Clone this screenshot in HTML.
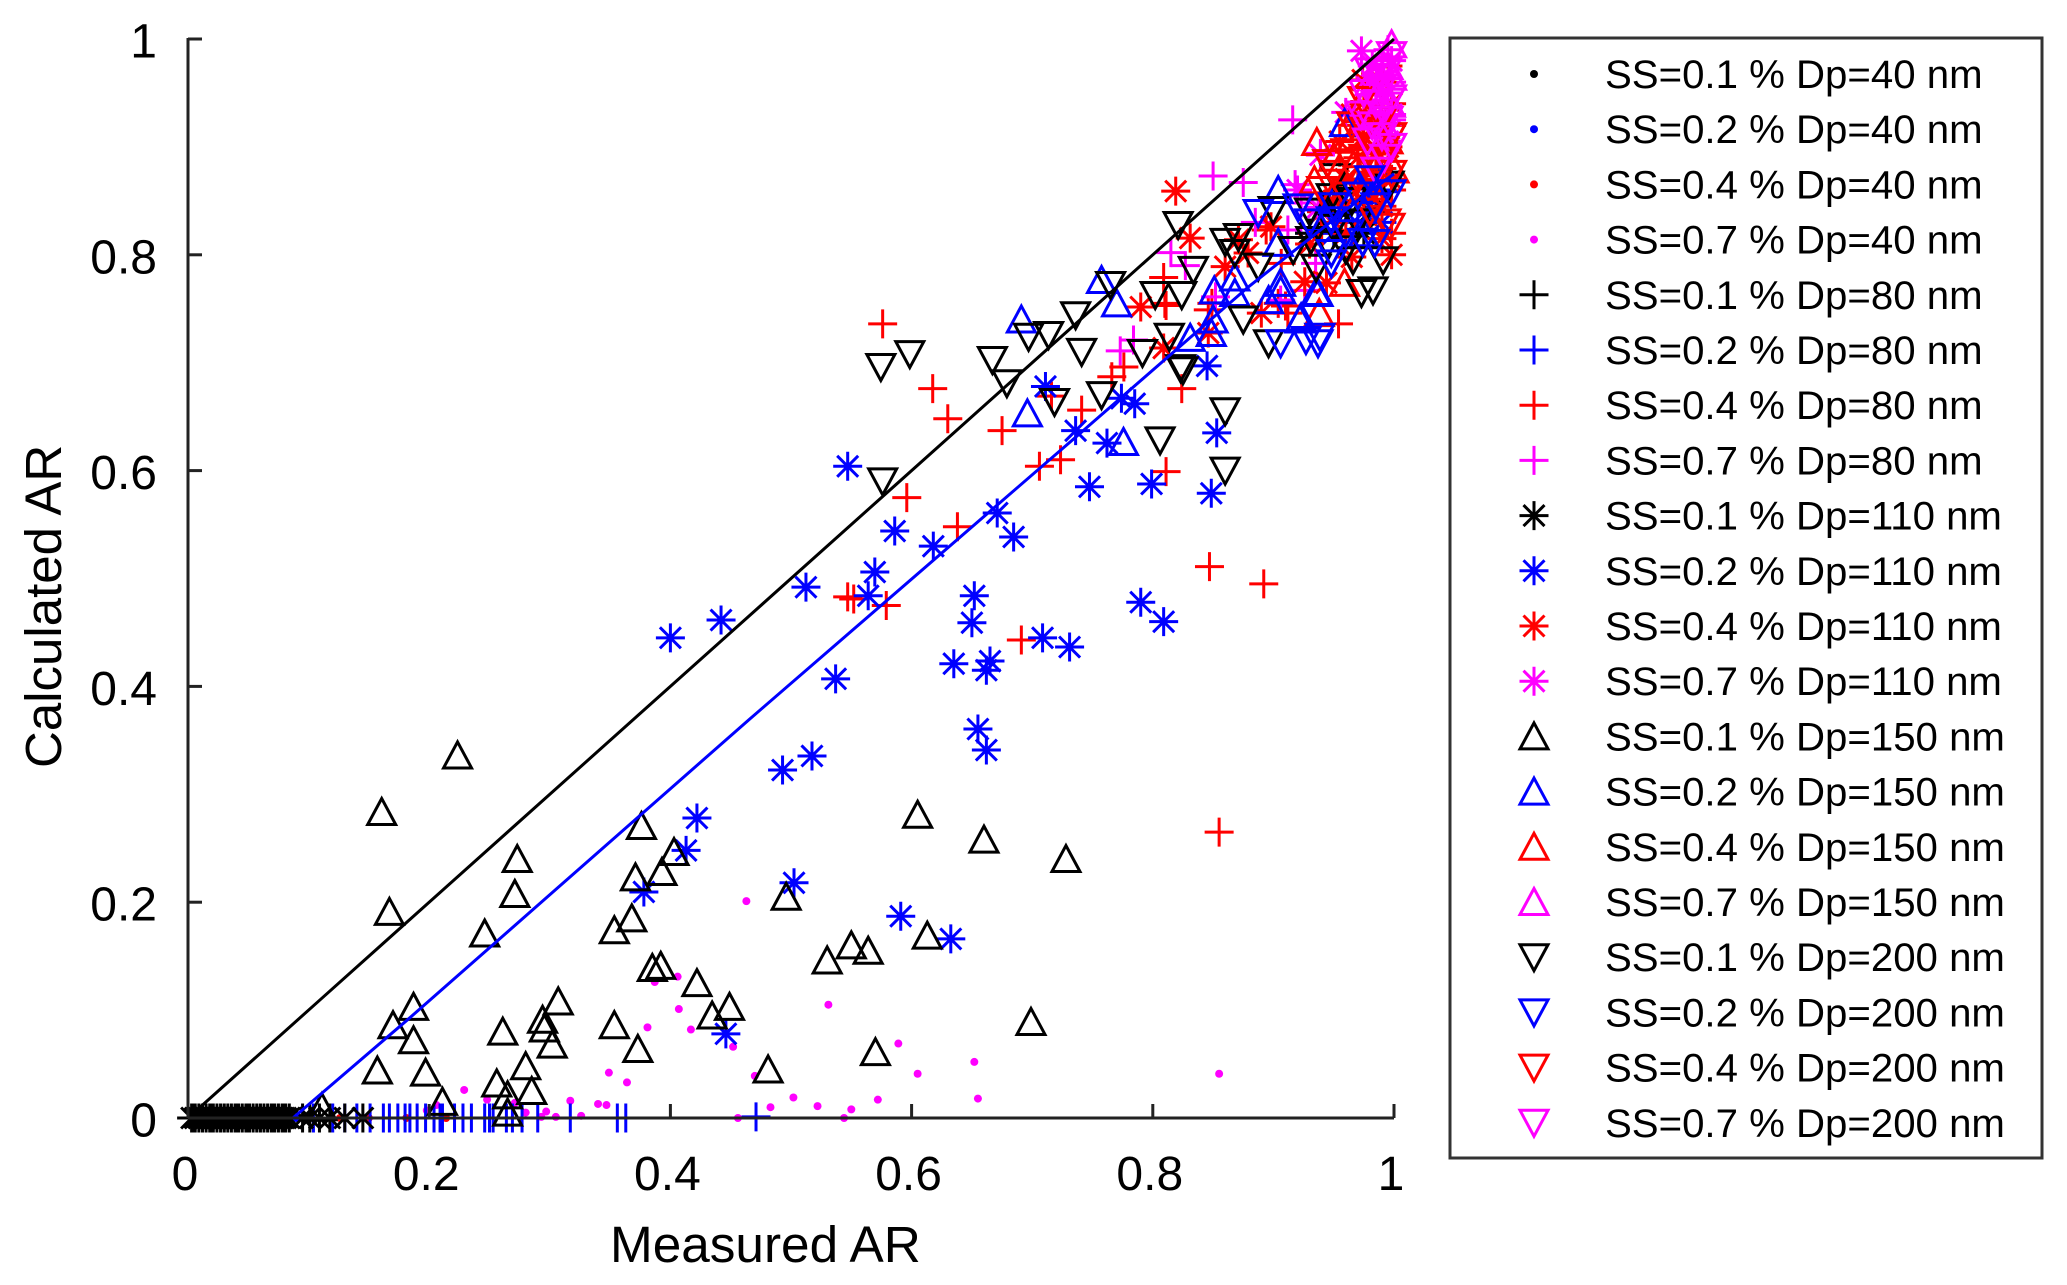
<!DOCTYPE html>
<html lang="en">
<head>
<meta charset="utf-8">
<title>Calculated AR vs Measured AR</title>
<style>
html,body{margin:0;padding:0;background:#fff;}
svg{display:block;font-family:"Liberation Sans",sans-serif;}
</style>
</head>
<body>
<svg id="chart" xmlns="http://www.w3.org/2000/svg" width="2067" height="1285" viewBox="0 0 2067 1285">
  <rect x="0" y="0" width="2067" height="1285" fill="#fff"/>
  <g id="marks"></g>
  <g id="fit-lines"></g>
  <g id="axes"></g>
  <text x="610" y="1262" font-size="51.3" fill="#000">Measured AR</text>
  <text transform="translate(61,768) rotate(-90)" font-size="51" fill="#000">Calculated AR</text>
  <rect x="1450" y="38" width="592" height="1120" fill="#fff" stroke="#333" stroke-width="3"/>
  <g id="legend"></g>
</svg>
<script>
const xTicks = [0, 0.2, 0.4, 0.6, 0.8, 1];
const yTicks = [0, 0.2, 0.4, 0.6, 0.8, 1];
const xTickLabels = ["0", "0.2", "0.4", "0.6", "0.8", "1"];
const yTickLabels = ["0", "0.2", "0.4", "0.6", "0.8", "1"];

const legendLabels = [
  "SS=0.1 % Dp=40 nm", "SS=0.2 % Dp=40 nm", "SS=0.4 % Dp=40 nm", "SS=0.7 % Dp=40 nm",
  "SS=0.1 % Dp=80 nm", "SS=0.2 % Dp=80 nm", "SS=0.4 % Dp=80 nm", "SS=0.7 % Dp=80 nm",
  "SS=0.1 % Dp=110 nm", "SS=0.2 % Dp=110 nm", "SS=0.4 % Dp=110 nm", "SS=0.7 % Dp=110 nm",
  "SS=0.1 % Dp=150 nm", "SS=0.2 % Dp=150 nm", "SS=0.4 % Dp=150 nm", "SS=0.7 % Dp=150 nm",
  "SS=0.1 % Dp=200 nm", "SS=0.2 % Dp=200 nm", "SS=0.4 % Dp=200 nm", "SS=0.7 % Dp=200 nm"
];

const blackLine = [[0,0],[0.11,0.11],[0.37,0.37],[0.63,0.63],[0.88,0.88],[1,1]];
const blueLine = [[0.087,0],[0.182,0.091],[0.465,0.369],[0.733,0.628],[0.879,0.77],[0.973,0.853],[1,0.875]];

const ss01d40 = [[0.01,0],[0.03,0],[0.05,0],[0.07,0]];
const ss02d40 = [[0.02,0],[0.04,0],[0.06,0],[0.09,0]];
const ss04d40 = [[0.04,0],[0.1,0],[0.126,0],[0.15,0],[0.181,0],[0.214,0]];
const ss07d40 = [[0.198,0.007],[0.206,0.012],[0.229,0.026],[0.248,0.017],[0.271,0.014],[0.28,0.005],[0.297,0.006],[0.293,0.001],[0.305,0.001],[0.317,0.016],[0.326,0.002],[0.34,0.013],[0.347,0.012],[0.349,0.042],[0.364,0.033],[0.381,0.084],[0.406,0.131],[0.387,0.126],[0.407,0.101],[0.463,0.201],[0.417,0.082],[0.452,0.066],[0.47,0.039],[0.531,0.105],[0.589,0.069],[0.605,0.041],[0.652,0.052],[0.655,0.018],[0.855,0.041],[0.456,0],[0.483,0.01],[0.502,0.019],[0.522,0.011],[0.55,0.008],[0.544,0],[0.572,0.017],[0.99,0.97],[0.995,0.95]];

const ss01d80 = [[0.005,0],[0.012,0],[0.02,0],[0.03,0],[0.04,0],[0.05,0],[0.06,0],[0.07,0],[0.08,0],[0.96,0.86],[0.975,0.84],[0.95,0.83]];
const ss02d80 = [[0.104,0],[0.12,0],[0.13,0],[0.14,0],[0.151,0],[0.162,0],[0.167,0],[0.174,0],[0.18,0],[0.184,0],[0.19,0],[0.197,0],[0.204,0],[0.209,0],[0.211,0],[0.221,0],[0.228,0],[0.235,0],[0.246,0],[0.25,0],[0.253,0],[0.264,0],[0.269,0],[0.277,0],[0.29,0],[0.317,0],[0.356,0],[0.363,0],[0.471,0.001],[0.93,0.82],[0.95,0.85],[0.97,0.83]];
const ss04d80 = [[0.576,0.736],[0.6175,0.676],[0.63,0.648],[0.596,0.575],[0.638,0.548],[0.675,0.637],[0.741,0.656],[0.7235,0.61],[0.706,0.604],[0.811,0.599],[0.824,0.676],[0.716,0.669],[0.776,0.696],[0.766,0.687],[0.809,0.779],[0.81,0.755],[0.811,0.753],[0.846,0.749],[0.849,0.755],[0.547,0.483],[0.552,0.481],[0.579,0.475],[0.691,0.443],[0.847,0.511],[0.892,0.495],[0.855,0.265],[0.954,0.736],[0.91,0.7525],[0.9065,0.792],[0.894,0.823],[0.904,0.755],[0.912,0.746],[0.995,0.975],[0.99,0.94],[0.998,0.92],[0.985,0.91],[0.975,0.9],[0.99,0.88],[0.998,0.86],[0.97,0.87],[0.96,0.85],[0.985,0.84],[0.95,0.83],[0.94,0.82],[0.998,0.82],[0.975,0.94],[0.965,0.92],[0.955,0.895]];
const ss07d80 = [[0.85,0.873],[0.875,0.867],[0.916,0.925],[0.784,0.721],[0.815,0.802],[0.827,0.79],[0.885,0.83],[0.939,0.894],[0.773,0.711],[0.852,0.761],[0.912,0.823],[0.923,0.848],[0.935,0.792],[0.926,0.767],[0.906,0.758],[0.918,0.865],[0.995,0.99],[0.99,0.975],[0.998,0.96],[0.985,0.95],[0.995,0.94],[0.998,0.925],[0.99,0.91],[0.98,0.965],[0.975,0.93]];

const ss01d110 = [[0.003,0],[0.006,0],[0.009,0],[0.012,0],[0.015,0],[0.018,0],[0.021,0],[0.024,0],[0.027,0],[0.03,0],[0.033,0],[0.036,0],[0.039,0],[0.042,0],[0.045,0],[0.048,0],[0.051,0],[0.054,0],[0.057,0],[0.06,0],[0.063,0],[0.066,0],[0.069,0],[0.072,0],[0.075,0],[0.078,0],[0.081,0],[0.084,0],[0.095,0],[0.101,0],[0.109,0],[0.1176,0],[0.13,0],[0.145,0],[0.96,0.87],[0.95,0.85],[0.98,0.84],[0.94,0.84],[0.975,0.82],[0.93,0.82]];
const ss02d110 = [[0.4,0.445],[0.442,0.4615],[0.5124,0.492],[0.547,0.604],[0.586,0.544],[0.618,0.53],[0.5695,0.506],[0.564,0.484],[0.671,0.5607],[0.6846,0.5385],[0.7475,0.585],[0.652,0.484],[0.65,0.459],[0.7086,0.445],[0.731,0.4365],[0.635,0.421],[0.665,0.4235],[0.662,0.415],[0.537,0.407],[0.655,0.3605],[0.662,0.341],[0.5174,0.3355],[0.493,0.3225],[0.422,0.278],[0.413,0.248],[0.378,0.2095],[0.5025,0.218],[0.591,0.187],[0.6325,0.166],[0.446,0.078],[0.711,0.678],[0.736,0.637],[0.762,0.6255],[0.774,0.667],[0.785,0.662],[0.799,0.5876],[0.845,0.697],[0.853,0.635],[0.8485,0.579],[0.79,0.478],[0.809,0.46],[0.985,0.86],[0.975,0.84],[0.96,0.84],[0.99,0.83],[0.95,0.82]];
const ss04d110 = [[0.819,0.859],[0.831,0.8155],[0.86,0.789],[0.879,0.8017],[0.871,0.814],[0.79,0.7516],[0.846,0.7275],[0.926,0.775],[0.944,0.774],[0.89,0.746],[0.898,0.826],[0.998,0.8],[0.965,0.798],[0.809,0.7136],[0.974,0.962],[0.99,0.96],[0.998,0.94],[0.985,0.92],[0.975,0.91],[0.995,0.9],[0.97,0.89],[0.985,0.875],[0.96,0.87],[0.998,0.87],[0.95,0.85],[0.975,0.85],[0.99,0.845],[0.94,0.84],[0.96,0.82],[0.93,0.81],[0.99,0.815],[0.965,0.93],[0.955,0.905]];
const ss07d110 = [[0.973,0.989],[0.96,0.932],[0.939,0.8925],[0.92,0.86],[0.937,0.844],[0.998,0.98],[0.99,0.965],[0.995,0.95],[0.985,0.94],[0.998,0.93],[0.99,0.92],[0.995,0.905],[0.982,0.975],[0.978,0.955],[0.98,0.925]];

const ss01d150 = [[0.2235,0.336],[0.1606,0.2836],[0.167,0.191],[0.273,0.24],[0.271,0.2076],[0.246,0.171],[0.376,0.2706],[0.403,0.2465],[0.393,0.228],[0.371,0.223],[0.368,0.185],[0.3535,0.174],[0.392,0.141],[0.385,0.139],[0.422,0.125],[0.449,0.103],[0.4346,0.095],[0.481,0.045],[0.496,0.205],[0.53,0.146],[0.55,0.16],[0.564,0.155],[0.613,0.169],[0.57,0.061],[0.699,0.089],[0.307,0.108],[0.294,0.091],[0.2955,0.083],[0.261,0.08],[0.3535,0.086],[0.373,0.064],[0.302,0.068],[0.28,0.048],[0.256,0.032],[0.285,0.025],[0.265,0.021],[0.265,0.005],[0.211,0.015],[0.157,0.044],[0.197,0.042],[0.187,0.072],[0.17,0.086],[0.187,0.103],[0.111,0.01],[0.605,0.281],[0.66,0.258],[0.728,0.24]];
const ss02d150 = [[0.691,0.74],[0.7575,0.7766],[0.77,0.755],[0.696,0.653],[0.7757,0.6265],[0.831,0.723],[0.851,0.767],[0.8485,0.7275],[0.868,0.779],[0.868,0.7646],[0.85,0.74],[0.896,0.758],[0.906,0.774],[0.937,0.7646],[0.923,0.742],[0.904,0.86],[0.959,0.922],[0.906,0.767],[0.9355,0.7655],[0.922,0.74],[0.904,0.811],[0.99,0.87],[0.97,0.86],[0.95,0.85],[0.975,0.82],[0.94,0.835]];
const ss04d150 = [[0.936,0.9045],[0.938,0.746],[0.959,0.774],[0.934,0.869],[0.966,0.909],[0.995,0.906],[1,0.879],[0.987,0.885],[0.975,0.88],[0.96,0.86],[0.985,0.93],[0.95,0.89],[0.97,0.935],[0.98,0.905]];
const ss07d150 = [[0.998,0.995],[0.995,0.975],[0.99,0.955],[0.997,0.94],[0.985,0.93],[0.992,0.92],[0.998,0.965],[0.98,0.96],[0.975,0.94]];

const ss01d200 = [[0.5745,0.696],[0.5985,0.708],[0.576,0.59],[0.667,0.7025],[0.679,0.681],[0.697,0.724],[0.7136,0.7257],[0.736,0.744],[0.741,0.71],[0.765,0.772],[0.7185,0.6636],[0.7575,0.67],[0.806,0.628],[0.7914,0.709],[0.8137,0.724],[0.802,0.7627],[0.824,0.7627],[0.8336,0.786],[0.825,0.693],[0.823,0.695],[0.821,0.8276],[0.86,0.655],[0.86,0.6],[0.871,0.8165],[0.86,0.812],[0.868,0.8017],[0.8874,0.789],[0.8998,0.8415],[0.9164,0.8044],[0.9354,0.788],[0.931,0.8137],[0.966,0.795],[0.991,0.795],[0.973,0.7646],[0.9826,0.767],[0.875,0.74],[0.896,0.718],[0.951,0.872],[0.948,0.8535],[0.996,0.865],[0.965,0.85],[0.955,0.845],[0.97,0.83],[0.95,0.825],[0.945,0.81],[0.96,0.805],[0.93,0.84]];
const ss02d200 = [[0.8874,0.8387],[0.9205,0.844],[0.948,0.792],[0.948,0.832],[0.927,0.721],[0.9386,0.724],[0.948,0.8017],[0.974,0.812],[0.984,0.811],[0.906,0.718],[0.937,0.718],[0.9975,0.857],[0.98,0.87],[0.97,0.855],[0.985,0.845],[0.95,0.845],[0.96,0.82],[0.93,0.83]];
const ss04d200 = [[0.974,0.9435],[0.976,0.915],[0.99,0.925],[0.998,0.91],[0.96,0.895],[0.975,0.89],[0.99,0.89],[0.97,0.87],[0.985,0.865],[0.95,0.875],[0.96,0.855],[0.998,0.875],[0.94,0.86],[0.9967,0.826],[0.9934,0.83],[0.98,0.84],[0.965,0.92],[0.945,0.885],[0.985,0.905]];
const ss07d200 = [[0.998,0.985],[0.994,0.97],[0.99,0.955],[0.998,0.945],[0.985,0.94],[0.995,0.925],[0.99,0.91],[0.998,0.9],[0.982,0.92],[0.978,0.905],[0.992,0.89],[0.985,0.878],[0.98,0.97],[0.975,0.95],[0.972,0.93],[0.988,0.965]];

const seriesData = [
  ss01d40, ss02d40, ss04d40, ss07d40,
  ss01d80, ss02d80, ss04d80, ss07d80,
  ss01d110, ss02d110, ss04d110, ss07d110,
  ss01d150, ss02d150, ss04d150, ss07d150,
  ss01d200, ss02d200, ss04d200, ss07d200
];
const seriesColors = ["#000","#00f","#f00","#f0f"];
const seriesMarkers = ["dot","plus","star","up","down"];
const drawOrder = [0,1,2,3,4,5,6,7,8,9,10,11,12,14,15,13,16,18,19,17];

const SVGNS = "http://www.w3.org/2000/svg";
const X0 = 188, X1 = 1394, Y0 = 1118, Y1 = 39;
function xScale(v){ return X0 + (X1 - X0) * v; }
function yScale(v){ return Y0 - (Y0 - Y1) * v; }

function node(tag, parent){
  const el = document.createElementNS(SVGNS, tag);
  parent.appendChild(el);
  return el;
}
function drawMarker(parent, kind, cx, cy, color, name){
  let el;
  if (kind === "dot") {
    el = node("circle", parent);
    el.setAttribute("cx", cx);
    el.setAttribute("cy", cy);
    el.setAttribute("r", 4);
    el.setAttribute("fill", color);
  } else {
    el = node("path", parent);
    let d = "";
    if (kind === "plus") {
      d = `M${cx-14.5} ${cy}H${cx+14.5}M${cx} ${cy-14.5}V${cy+14.5}`;
    } else if (kind === "star") {
      d = `M${cx-14.5} ${cy}H${cx+14.5}M${cx} ${cy-14.5}V${cy+14.5}M${cx-10.5} ${cy-10.5}L${cx+10.5} ${cy+10.5}M${cx-10.5} ${cy+10.5}L${cx+10.5} ${cy-10.5}`;
    } else if (kind === "up") {
      d = `M${cx} ${cy-13.5}L${cx+14} ${cy+12.5}H${cx-14}Z`;
    } else {
      d = `M${cx} ${cy+13.5}L${cx+14} ${cy-12.5}H${cx-14}Z`;
    }
    el.setAttribute("d", d);
    el.setAttribute("fill", "none");
    el.setAttribute("stroke", color);
    el.setAttribute("stroke-width", 3);
  }
  
  
}

const marksGroup = document.getElementById("marks");
drawOrder.forEach(function(i){
  const kind = seriesMarkers[Math.floor(i / 4)];
  const color = seriesColors[i % 4];
  const g = node("g", marksGroup);
  
  
  seriesData[i].forEach(function(p){
    drawMarker(g, kind, xScale(p[0]), yScale(p[1]), color, 'data-point');
  });
});

function drawLine(points, color, name){
  const el = node("polyline", document.getElementById("fit-lines"));
  el.setAttribute("points", points.map(function(p){ return xScale(p[0]) + "," + yScale(p[1]); }).join(" "));
  el.setAttribute("fill", "none");
  el.setAttribute("stroke", color);
  el.setAttribute("stroke-width", 3);
  
  
}
drawLine(blackLine, "#000", "one-to-one-line");
drawLine(blueLine, "#00f", "blue-fit-line");

const axesGroup = document.getElementById("axes");
const xAxisLine = node("line", axesGroup);
xAxisLine.setAttribute("x1", X0);
xAxisLine.setAttribute("x2", X1);
xAxisLine.setAttribute("y1", Y0);
xAxisLine.setAttribute("y2", Y0);
xAxisLine.setAttribute("stroke", "#222");
xAxisLine.setAttribute("stroke-width", 3);


const yAxisLine = node("line", axesGroup);
yAxisLine.setAttribute("x1", X0);
yAxisLine.setAttribute("x2", X0);
yAxisLine.setAttribute("y1", Y0);
yAxisLine.setAttribute("y2", Y1 - 1);
yAxisLine.setAttribute("stroke", "#222");
yAxisLine.setAttribute("stroke-width", 3);



xTicks.forEach(function(t, i){
  const tick = node("line", axesGroup);
  tick.setAttribute("x1", xScale(t));
  tick.setAttribute("x2", xScale(t));
  tick.setAttribute("y1", Y0);
  tick.setAttribute("y2", Y0 - 14);
  tick.setAttribute("stroke", "#222");
  tick.setAttribute("stroke-width", 3);
  
  
  const label = node("text", axesGroup);
  label.setAttribute("x", xScale(t) - 3);
  label.setAttribute("y", 1190);
  label.setAttribute("font-size", 48);
  label.setAttribute("text-anchor", "middle");
  label.setAttribute("fill", "#000");
  
  
  label.textContent = xTickLabels[i];
});
yTicks.forEach(function(t, i){
  const tick = node("line", axesGroup);
  tick.setAttribute("x1", X0);
  tick.setAttribute("x2", X0 + 14);
  tick.setAttribute("y1", yScale(t));
  tick.setAttribute("y2", yScale(t));
  tick.setAttribute("stroke", "#222");
  tick.setAttribute("stroke-width", 3);
  
  
  const label = node("text", axesGroup);
  label.setAttribute("x", 157);
  label.setAttribute("y", yScale(t) + 18.5);
  label.setAttribute("font-size", 48);
  label.setAttribute("text-anchor", "end");
  label.setAttribute("fill", "#000");
  
  
  label.textContent = yTickLabels[i];
});

const legendGroup = document.getElementById("legend");
legendLabels.forEach(function(text, i){
  const rowY = 74 + i * 55.2;
  const g = node("g", legendGroup);
  
  
  drawMarker(g, seriesMarkers[Math.floor(i / 4)], 1534, rowY, seriesColors[i % 4], 'legend-marker');
  const label = node("text", g);
  label.setAttribute("x", 1605);
  label.setAttribute("y", rowY + 14);
  label.setAttribute("font-size", 40.2);
  label.setAttribute("fill", "#000");
  
  
  label.textContent = text;
});
</script>
</body>
</html>
